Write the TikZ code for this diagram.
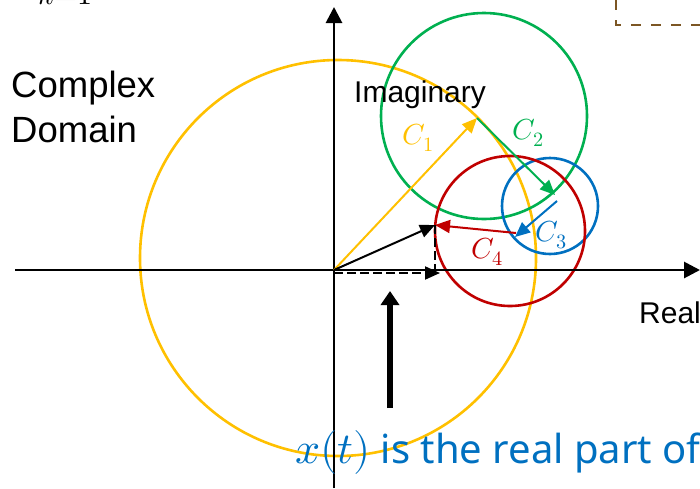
\documentclass[tikz,border=0pt]{standalone}
\usepackage{fontspec}
\usepackage{unicode-math}
\setmainfont{Liberation Sans}
\setmathfont{Latin Modern Math}
\newfontfamily\notosans{Noto Sans}
\usetikzlibrary{arrows.meta}
\definecolor{cyel}{RGB}{255,192,0}
\definecolor{cgrn}{RGB}{0,176,80}
\definecolor{cblu}{RGB}{0,112,192}
\definecolor{cred}{RGB}{192,0,0}
\definecolor{cbrn}{RGB}{124,86,36}
\tikzset{
  axisline/.style={line width=2.8pt, -{Triangle[length=16pt,width=16pt]}},
  circline/.style={line width=2.6pt},
  vecline/.style={line width=2pt, -{Triangle[length=15pt,width=13pt]}},
  clabel/.style={inner sep=0pt, font=\fontsize{29}{34}\selectfont},
  plaintext/.style={inner sep=0pt, font=\fontsize{30}{36}\selectfont},
  dashpat/.style={dash pattern=on 9pt off 4pt},
}
\begin{document}
\begin{tikzpicture}[x=1pt,y=-1pt]
\useasboundingbox (0,0) rectangle (700,488);
% named points
\coordinate (O) at (334,270);
\coordinate (xs) at (15,270);
\coordinate (xe) at (700,270);
\coordinate (ys) at (334,488);
\coordinate (ye) at (334,7);
\coordinate (P1) at (477,118);
\coordinate (P2) at (555,195);
\coordinate (P3s) at (557,201);
\coordinate (P3) at (515,237);
\coordinate (P4s) at (516,233);
\coordinate (P4) at (435,225);
\coordinate (P4f) at (435,270);
\coordinate (Os) at (334,273);
\coordinate (Px) at (440,273);
\coordinate (Us) at (390,408);
\coordinate (Ue) at (390,291);
\coordinate (B1) at (616,0);
\coordinate (B2) at (616,25);
\coordinate (B3) at (700,25);
% circles
\draw[circline, cyel] (338,258) circle[radius=198pt];
\draw[circline, cgrn] (484,116) circle[radius=103pt];
\draw[circline, cblu] (550,206) circle[radius=48pt];
\draw[circline, cred] (510,231) circle[radius=75pt];
% axes
\draw[axisline] (xs) -- (xe);
\draw[axisline] (ys) -- (ye);
% vectors
\draw[vecline, cyel] (O) -- (P1);
\draw[vecline, cgrn] (P1) -- (P2);
\draw[vecline, cblu] (P3s) -- (P3);
\draw[vecline, cred] (P4s) -- (P4);
\draw[vecline, black] (O) -- (P4);
\draw[line width=2pt, dashpat] (P4) -- (P4f);
\draw[vecline, dashpat] (Os) -- (Px);
\draw[line width=6pt, -{Triangle[length=14pt,width=18pt]}] (Us) -- (Ue);
\draw[cbrn, line width=2.2pt, dash pattern=on 10pt off 10pt] (B1) -- (B2) -- (B3);
% labels
\node[clabel, text=cyel] (c1) at (418,138) {$C_1$};
\node[clabel, text=cgrn] (c2) at (528,133) {$C_2$};
\node[clabel, text=cblu] (c3) at (551,235) {$C_3$};
\node[clabel, text=cred] (c4) at (487,252) {$C_4$};
\node[plaintext, anchor=base west] (imag) at (354,102) {Imaginary};
\node[plaintext, anchor=base west] (real) at (639,323) {Real};
\node[inner sep=0pt, anchor=base west, align=left, font=\fontsize{36.5}{45}\selectfont] (cd) at (11,142) {Complex\\Domain};
\node[inner sep=0pt, anchor=base west, font=\fontsize{30}{36}\selectfont] (k1) at (38,4) {$k{=}1$};
\node[inner sep=0pt, anchor=base west, text=cblu, font=\notosans\fontsize{40}{46}\selectfont] (xt) at (295,463) {{\fontsize{44}{50}\selectfont$x(t)$} is the real part of};
\end{tikzpicture}
\end{document}
